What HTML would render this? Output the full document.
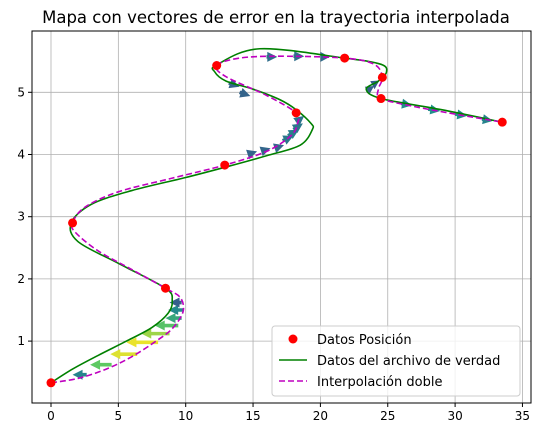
<!DOCTYPE html>
<html><head><meta charset="utf-8"><style>
body{margin:0;background:#fff;}
svg text{font-family:"DejaVu Sans","Liberation Sans",sans-serif;}
</style></head><body>
<svg id="chart" width="541" height="435" xmlns="http://www.w3.org/2000/svg">
<text x="276" y="23" font-size="16.5" text-anchor="middle" fill="#000">Mapa con vectores de error en la trayectoria interpolada</text>
<g id="grid"></g>
<g id="xaxis"></g>
<g id="yaxis"></g>
<g id="series"></g>
<rect x="32" y="31" width="499" height="372" fill="none" stroke="#000" stroke-width="1"/>
<g>
<rect x="272" y="326" width="248" height="70" rx="3" fill="#fff" fill-opacity="0.8" stroke="#ccc"/>
<g><circle cx="293" cy="339" r="4.5" fill="red"/><text x="317" y="344" font-size="13">Datos Posición</text></g>
<g><line x1="279" x2="307" y1="360" y2="360" stroke="green" stroke-width="1.6"/><text x="317" y="365" font-size="13">Datos del archivo de verdad</text></g>
<g><line x1="279" x2="307" y1="381" y2="381" stroke="#bf00bf" stroke-width="1.6" stroke-dasharray="6,3"/><text x="317" y="386" font-size="13">Interpolación doble</text></g>
</g>
</svg>
<script>
const xTicks=[0,5,10,15,20,25,30,35];
const yTicks=[1,2,3,4,5];
const posX=[0,1.6,8.5,12.9,18.2,12.3,21.8,24.6,24.5,33.5];
const posY=[0.33,2.9,1.85,3.83,4.67,5.43,5.55,5.24,4.9,4.52];
const truthX=[0,1.6,3.5,5.6,7.5,8.7,9.0,8.5,5,2,1.5,3,6,10,13,16,18.5,19.4,19.3,18.2,17,15,13,12.15,12.3,15.5,21.8,24.5,24.9,24.3,23.4,24.5,29,33.5];
const truthY=[0.33,0.55,0.77,1.0,1.22,1.45,1.65,1.85,2.25,2.6,2.9,3.2,3.42,3.63,3.8,3.98,4.15,4.4,4.5,4.72,4.88,5.05,5.18,5.33,5.44,5.7,5.55,5.45,5.32,5.18,5.05,4.9,4.72,4.52];
const interpX=[0,2,4.1,6,7.8,9,9.8,9.6,8.5,6,3.5,1.8,1.6,2.5,5,9,12.9,16,17.8,18.3,18.2,16,13,12.3,14,17,21.8,24,24.6,24.3,24.5,27,30,33.5];
const interpY=[0.33,0.4,0.55,0.75,1.0,1.2,1.47,1.7,1.85,2.15,2.45,2.75,2.9,3.15,3.4,3.62,3.83,4.05,4.3,4.5,4.67,4.95,5.25,5.43,5.55,5.58,5.55,5.45,5.24,5.05,4.9,4.77,4.65,4.52];
const arrX=[2.65,4.5,6.4,7.95,8.8,9.45,9.7,9.8,9.7,17.2,17.6,18.0,18.2,16.6,15.6,14.6,13.2,14,16,18,20,23.8,24.2,26,28,30,32];
const arrY=[0.46,0.62,0.79,0.98,1.12,1.25,1.37,1.5,1.62,4.22,4.3,4.4,4.52,4.1,4.05,4.0,5.15,5.0,5.57,5.58,5.57,5.03,5.12,4.82,4.73,4.65,4.57];
const arrU=[-1.05,-1.6,-2.0,-2.35,-2.1,-1.75,-1.2,-1.1,-0.9,0.8,0.8,0.7,0.6,0.7,0.7,0.7,0.8,0.8,0.8,0.8,0.7,-0.5,-0.5,0.8,0.9,0.9,0.8];
const arrV=[0,0,0,0,0,0,0,0,0,0.08,0.1,0.1,0.1,0.05,0.05,0.05,-0.06,-0.06,0,0,0,0.06,0.06,-0.03,-0.03,-0.03,-0.03];
const arrMag=[0.45,0.75,0.95,0.97,0.85,0.72,0.6,0.47,0.3,0.4,0.42,0.4,0.38,0.34,0.33,0.32,0.32,0.32,0.36,0.36,0.35,0.3,0.3,0.48,0.5,0.5,0.45];
const NS='http://www.w3.org/2000/svg';
const X=v=>51+v*13.47, Y=v=>92.3+(5-v)*62.2;
function mk(t,a,p){const e=document.createElementNS(NS,t);for(const k in a)e.setAttribute(k,a[k]);p.appendChild(e);return e;}
const grid=document.getElementById('grid'),xa=document.getElementById('xaxis'),ya=document.getElementById('yaxis'),ser=document.getElementById('series');
xTicks.forEach(t=>{
 const g=mk('line',{x1:X(t),x2:X(t),y1:31,y2:403,stroke:'#b0b0b0','stroke-width':0.8},grid);
 
 
 mk('line',{x1:X(t),x2:X(t),y1:403,y2:407,stroke:'#000'},xa);
 const tx=mk('text',{x:X(t),y:420,'font-size':12,'text-anchor':'middle'},xa);tx.textContent=t;
 
 
});
yTicks.forEach(t=>{
 const g=mk('line',{x1:32,x2:531,y1:Y(t),y2:Y(t),stroke:'#b0b0b0','stroke-width':0.8},grid);
 
 
 mk('line',{x1:28,x2:32,y1:Y(t),y2:Y(t),stroke:'#000'},ya);
 const tx=mk('text',{x:25,y:Y(t)+4,'font-size':12,'text-anchor':'end'},ya);tx.textContent=t;
 
 
});
function smooth(xs,ys){const P=xs.map((x,i)=>[X(x),Y(ys[i])]);let d='M'+P[0][0]+','+P[0][1];
 for(let i=0;i<P.length-1;i++){const p0=P[Math.max(0,i-1)],p1=P[i],p2=P[i+1],p3=P[Math.min(P.length-1,i+2)];
 d+=' C'+(p1[0]+(p2[0]-p0[0])/6)+','+(p1[1]+(p2[1]-p0[1])/6)+' '+(p2[0]-(p3[0]-p1[0])/6)+','+(p2[1]-(p3[1]-p1[1])/6)+' '+p2[0]+','+p2[1];}return d;}
function viridis(t){const c=[[68,1,84],[59,82,139],[33,145,140],[94,201,98],[253,231,37]];t=Math.max(0,Math.min(1,t))*4;const i=Math.min(3,Math.floor(t)),f=t-i;return 'rgb('+c[i].map((v,k)=>Math.round(v+(c[i+1][k]-v)*f)).join(',')+')';}
arrX.forEach((x,i)=>{
 const x0=X(x),y0=Y(arrY[i]),x1=X(x+arrU[i]),y1=Y(arrY[i]+arrV[i]);
 const dx=x1-x0,dy=y1-y0,L=Math.hypot(dx,dy)||1,ux=dx/L,uy=dy/L,nx=-uy,ny=ux,h=Math.min(10,L),w=5,s=1.8;
 const bx=x1-ux*h,by=y1-uy*h;
 const pts=[[x0+nx*s,y0+ny*s],[bx+nx*s,by+ny*s],[bx+nx*w,by+ny*w],[x1,y1],[bx-nx*w,by-ny*w],[bx-nx*s,by-ny*s],[x0-nx*s,y0-ny*s]];
 const a=mk('polygon',{points:pts.map(p=>p.join(',')).join(' '),fill:viridis(arrMag[i])},ser);
 
 
});
const tp=mk('path',{d:smooth(truthX,truthY),fill:'none',stroke:'green','stroke-width':1.6},ser);


const ip=mk('path',{d:smooth(interpX,interpY),fill:'none',stroke:'#bf00bf','stroke-width':1.6,'stroke-dasharray':'6,3'},ser);


posX.forEach((x,i)=>{
 const c=mk('circle',{cx:X(x),cy:Y(posY[i]),r:4.5,fill:'red'},ser);
 
 
});
</script>
</body></html>
